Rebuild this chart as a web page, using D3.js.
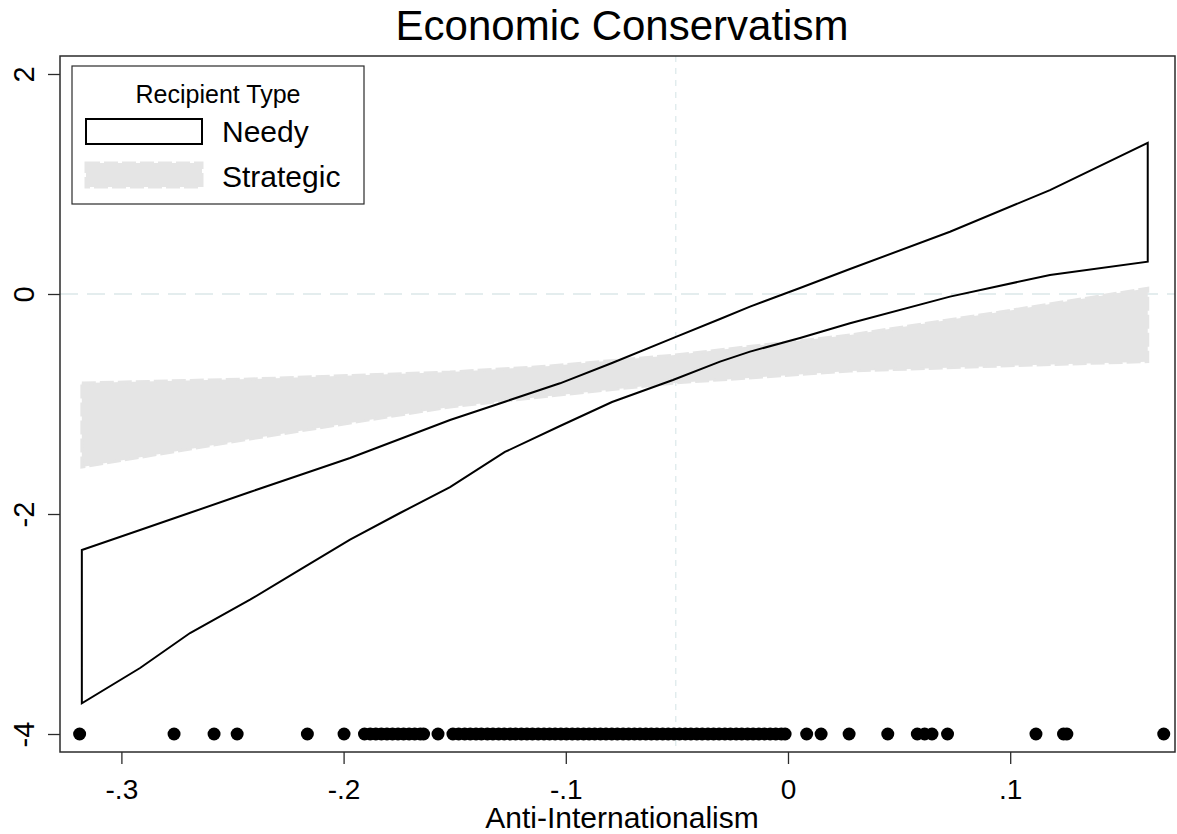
<!DOCTYPE html>
<html>
<head>
<meta charset="utf-8">
<script src="https://cdn.jsdelivr.net/npm/d3@7"></script>
<style>
  html, body { margin: 0; padding: 0; background: #fff; }
  svg { display: block; font-family: 'Liberation Sans', Arial, sans-serif; }
</style>
</head>
<body>
<div id="chart"></div>
<script>
// --- data ---
const title = 'Economic Conservatism'
const xTitle = 'Anti-Internationalism'
const legendTitle = 'Recipient Type'
const seriesNames = ['Needy', 'Strategic']

const xTicks = [-0.3, -0.2, -0.1, 0, 0.1]
const yTicks = [-4, -2, 0, 2]
const xRef = -0.0505
const yRef = 0
const rugY = -4

// Needy: confidence band, drawn as outline
const needyX     = [-0.3178, -0.2916, -0.2691, -0.2421, -0.2196, -0.1971, -0.1746, -0.1521, -0.1274, -0.1026, -0.0792, -0.0518, -0.0306, -0.0171, 0.0054, 0.0279, 0.0729, 0.1179, 0.1619]
const needyUpper = [-2.327, -2.146, -1.989, -1.800, -1.645, -1.491, -1.318, -1.145, -0.979, -0.812, -0.627, -0.401, -0.227, -0.115, 0.055, 0.227, 0.566, 0.945, 1.375]
const needyLower = [-3.721, -3.400, -3.082, -2.779, -2.506, -2.234, -1.991, -1.755, -1.436, -1.200, -0.982, -0.782, -0.615, -0.524, -0.400, -0.266, -0.024, 0.173, 0.294]

// Strategic: confidence band, filled grey
const stratX     = [-0.3178, -0.2421, -0.1521, -0.1071, -0.0509, 0.0279, 0.0954, 0.1619]
const stratUpper = [-0.809, -0.773, -0.709, -0.655, -0.555, -0.373, -0.164, 0.052]
const stratLower = [-1.573, -1.318, -1.027, -0.927, -0.809, -0.700, -0.655, -0.615]

// rug of observed x values
const rugX = [
  -0.3188, -0.2763, -0.2583, -0.2479, -0.2163, -0.1998,
  -0.1906, -0.188, -0.1855, -0.183, -0.1805, -0.178, -0.1755, -0.173, -0.1705, -0.168, -0.1655, -0.164,
  -0.1575,
  -0.1508, -0.1482, -0.1455, -0.143, -0.1404, -0.138, -0.1353, -0.1328, -0.1302, -0.1277,
  -0.125, -0.1226, -0.12, -0.1175, -0.115, -0.1124, -0.1098, -0.1073, -0.1048, -0.1022,
  -0.0997, -0.0971, -0.0946, -0.092, -0.0895, -0.087, -0.0844, -0.0819, -0.0793, -0.0768,
  -0.0742, -0.0717, -0.0691, -0.0666, -0.064, -0.0615, -0.059, -0.0564, -0.0539, -0.0513,
  -0.0488, -0.0462, -0.0437, -0.0411, -0.0386, -0.036, -0.0335, -0.031, -0.0284, -0.0259,
  -0.0233, -0.0208, -0.0182, -0.0157, -0.0131, -0.0106, -0.008, -0.0055, -0.003, -0.0013,
  0.0084, 0.0149, 0.0275, 0.0449, 0.0582, 0.0615, 0.0648, 0.0718, 0.1116, 0.124, 0.1255, 0.1691
]

// --- layout ---
const width = 1177
const height = 834
const margin = { top: 56, right: 2, bottom: 82, left: 60 }
const grey = '#e5e5e5'
const refColor = '#dbe8e9'
const frameColor = '#2b2b2b'

const svg = d3.select('#chart')
  .append('svg')
  .attr('width', width)
  .attr('height', height)
  .attr('viewBox', [0, 0, width, height].join(' '))

const x = d3.scaleLinear()
  .domain([-0.32763, 0.17417])
  .range([margin.left, width - margin.right])

const y = d3.scaleLinear()
  .domain([-4.1636, 2.1636])
  .range([height - margin.bottom, margin.top])

const fmtX = d => d === 0 ? '0' : String(d).replace('0.', '.')

// reference lines
svg.append('line')
  .attr('x1', x(xRef)).attr('x2', x(xRef))
  .attr('y1', margin.top).attr('y2', height - margin.bottom)
  .attr('stroke', refColor).attr('stroke-width', 1.2)
  .attr('stroke-dasharray', '6,6')

svg.append('line')
  .attr('x1', margin.left).attr('x2', width - margin.right)
  .attr('y1', y(yRef)).attr('y2', y(yRef))
  .attr('stroke', refColor).attr('stroke-width', 1.5)
  .attr('stroke-dasharray', '18,9')

// bands
const band = d3.area()
  .x(d => x(d[0]))
  .y0(d => y(d[1]))
  .y1(d => y(d[2]))

const stratData = stratX.map((v, i) => [v, stratLower[i], stratUpper[i]])
const needyData = needyX.map((v, i) => [v, needyLower[i], needyUpper[i]])

svg.append('path')
  .attr('class', 'strategic')
  .attr('d', band(stratData))
  .attr('fill', grey)
  .attr('stroke', grey)
  .attr('stroke-width', 3)
  .attr('stroke-dasharray', '14,4')

svg.append('path')
  .attr('class', 'needy')
  .attr('d', band(needyData))
  .attr('fill', 'none')
  .attr('stroke', '#000')
  .attr('stroke-width', 2)
  .attr('stroke-linejoin', 'miter')

// rug
svg.append('g')
  .attr('class', 'rug')
  .selectAll('circle')
  .data(rugX)
  .join('circle')
  .attr('cx', d => x(d))
  .attr('cy', y(rugY))
  .attr('r', 6.5)
  .attr('fill', '#000')

// frame
svg.append('rect')
  .attr('x', margin.left).attr('y', margin.top)
  .attr('width', width - margin.left - margin.right)
  .attr('height', height - margin.top - margin.bottom)
  .attr('fill', 'none')
  .attr('stroke', frameColor)
  .attr('stroke-width', 1.5)

// axes
const xAxis = svg.append('g')
  .attr('transform', `translate(0,${height - margin.bottom})`)
  .call(d3.axisBottom(x).tickValues(xTicks).tickSize(12).tickFormat(fmtX))
xAxis.select('.domain').remove()
xAxis.selectAll('line').attr('stroke', frameColor).attr('stroke-width', 1.3)
xAxis.selectAll('text')
  .attr('y', 47)
  .attr('dy', null)
  .attr('font-size', 28)
  .attr('fill', '#000')
  .attr('font-family', null)

const yAxis = svg.append('g')
  .attr('transform', `translate(${margin.left},0)`)
  .call(d3.axisLeft(y).tickValues(yTicks).tickSize(12).tickFormat(d => String(d)))
yAxis.select('.domain').remove()
yAxis.selectAll('line').attr('stroke', frameColor).attr('stroke-width', 1.3)
yAxis.selectAll('text')
  .attr('x', null).attr('dy', null)
  .attr('transform', 'translate(-26,0) rotate(-90)')
  .attr('text-anchor', 'middle')
  .attr('font-size', 29)
  .attr('fill', '#000')
  .attr('font-family', null)

// titles
svg.append('text')
  .attr('x', 622).attr('y', 40)
  .attr('text-anchor', 'middle')
  .attr('font-size', 42)
  .text(title)

svg.append('text')
  .attr('x', 622).attr('y', 828)
  .attr('text-anchor', 'middle')
  .attr('font-size', 30)
  .text(xTitle)

// legend
const legend = svg.append('g').attr('class', 'legend')
  .attr('transform', 'translate(72,66)')

legend.append('rect')
  .attr('width', 292).attr('height', 138)
  .attr('fill', '#fff')
  .attr('stroke', frameColor)
  .attr('stroke-width', 1.2)

legend.append('text')
  .attr('x', 146).attr('y', 37)
  .attr('text-anchor', 'middle')
  .attr('font-size', 25)
  .text(legendTitle)

legend.append('rect')
  .attr('x', 14).attr('y', 53)
  .attr('width', 116).attr('height', 25)
  .attr('fill', 'none')
  .attr('stroke', '#000')
  .attr('stroke-width', 2)

legend.append('rect')
  .attr('x', 14).attr('y', 97)
  .attr('width', 116).attr('height', 24)
  .attr('fill', grey)
  .attr('stroke', grey)
  .attr('stroke-width', 3)
  .attr('stroke-dasharray', '14,4')

legend.selectAll('text.item')
  .data(seriesNames)
  .join('text')
  .attr('class', 'item')
  .attr('x', 150)
  .attr('y', (d, i) => 76 + i * 45)
  .attr('font-size', 30)
  .text(d => d)
</script>
</body>
</html>
